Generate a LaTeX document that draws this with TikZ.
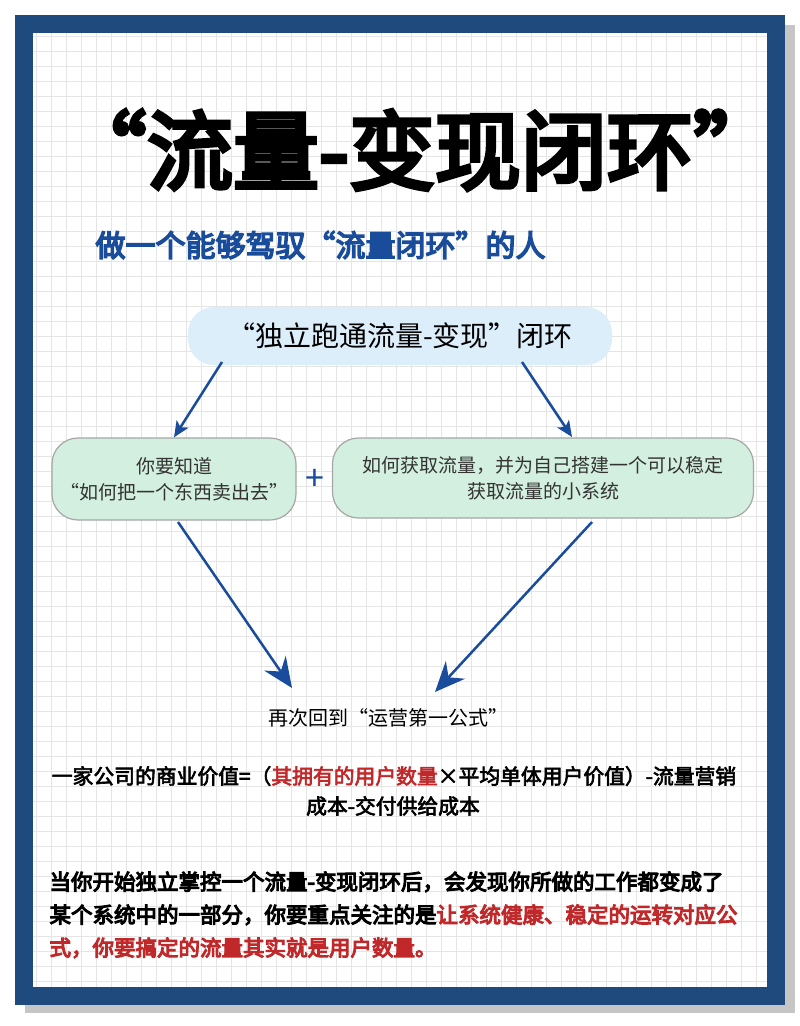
\documentclass[tikz,border=0pt]{standalone}
\usepackage{fontspec}
\setmainfont{Noto Sans CJK SC}[AutoFakeBold=3]
\newfontfamily\cjkb{Noto Sans CJK SC}[AutoFakeBold=5]
\usetikzlibrary{arrows.meta}
\definecolor{frameblue}{HTML}{1F4A7E}
\definecolor{arrblue}{HTML}{1A4C9C}
\definecolor{boxblue}{HTML}{DDEEFB}
\definecolor{boxgreen}{HTML}{D3EFDF}
\definecolor{redtxt}{HTML}{C0282A}
\begin{document}
\begin{tikzpicture}[x=1pt,y=-1pt,
  arr/.style={arrblue,line width=2.5pt,-{Stealth[length=30pt,width=26pt,inset=10pt]}},
  sarr/.style={arrblue,line width=2.5pt,-{Stealth[length=16pt,width=14pt,inset=4pt]}},
  gbox/.style={draw=gray!70,line width=1.2pt,fill=boxgreen,rounded corners=26pt,align=center,font=\fontsize{19}{26}\selectfont,text=black!80},
  gridl/.style={gray!20,line width=0.6pt}]
\useasboundingbox (0,0) rectangle (800,1026);
\fill[white] (0,0) rectangle (800,1026);
\fill[gray!45] (25,25) rectangle (795,1013);
\fill[frameblue] (15,15) rectangle (785,1005);
\fill[white] (33,33) rectangle (767,987);
\foreach \i in {0,...,48} {\draw[gridl] (36+15*\i,33) -- (36+15*\i,987);}
\foreach \j in {0,...,63} {\draw[gridl] (33,36+15*\j) -- (767,36+15*\j);}
\node (title) at (420,150) {\cjkb\bfseries\fontsize{86}{90}\selectfont “流量-变现闭环”};
\node[anchor=west,text=arrblue] (sub) at (92,245) {\cjkb\bfseries\fontsize{30}{34}\selectfont 做一个能够驾驭“流量闭环”的人};
\node[fill=boxblue,rounded corners=26pt,minimum width=424pt,minimum height=58pt,font=\fontsize{28}{30}\selectfont] (top) at (400,336) {“独立跑通流量-变现”闭环};
\node[gbox,minimum width=244pt,minimum height=82pt] (left) at (174,479) {你要知道\\“如何把一个东西卖出去”};
\node[gbox,minimum width=421pt,minimum height=80pt] (right) at (543,478) {如何获取流量，并为自己搭建一个可以稳定\\获取流量的小系统};
\node[text=arrblue,font=\fontsize{34}{34}\selectfont] (plus) at (315,480) {+};
\coordinate (a1) at (222,362); \coordinate (a2) at (522,362);
\draw[sarr] (a1) -- (left.north);
\draw[sarr] (a2) -- (572,437);
\node[font=\fontsize{20}{24}\selectfont] (goal) at (388,718) {再次回到“运营第一公式”};
\coordinate (b1) at (178,522); \coordinate (b2) at (592,522);
\coordinate (t1) at (292,688); \coordinate (t2) at (435,692);
\draw[arr] (b1) -- (t1);
\draw[arr] (b2) -- (t2);
\node[font=\bfseries\fontsize{20.8}{24}\selectfont] (f1) at (394,776) {一家公司的商业价值=（\textcolor{redtxt}{其拥有的用户数量}×平均单体用户价值）-流量营销};
\node[font=\bfseries\fontsize{20.8}{24}\selectfont] (f2) at (393,806) {成本-交付供给成本};
\node[anchor=north west,align=left,font=\cjkb\bfseries\fontsize{21.5}{33}\selectfont] (para) at (46,868) {当你开始独立掌控一个流量-变现闭环后，会发现你所做的工作都变成了\\某个系统中的一部分，你要重点关注的是\textcolor{redtxt}{让系统健康、稳定的运转对应公}\\\textcolor{redtxt}{式，你要搞定的流量其实就是用户数量。}};
\end{tikzpicture}
\end{document}
